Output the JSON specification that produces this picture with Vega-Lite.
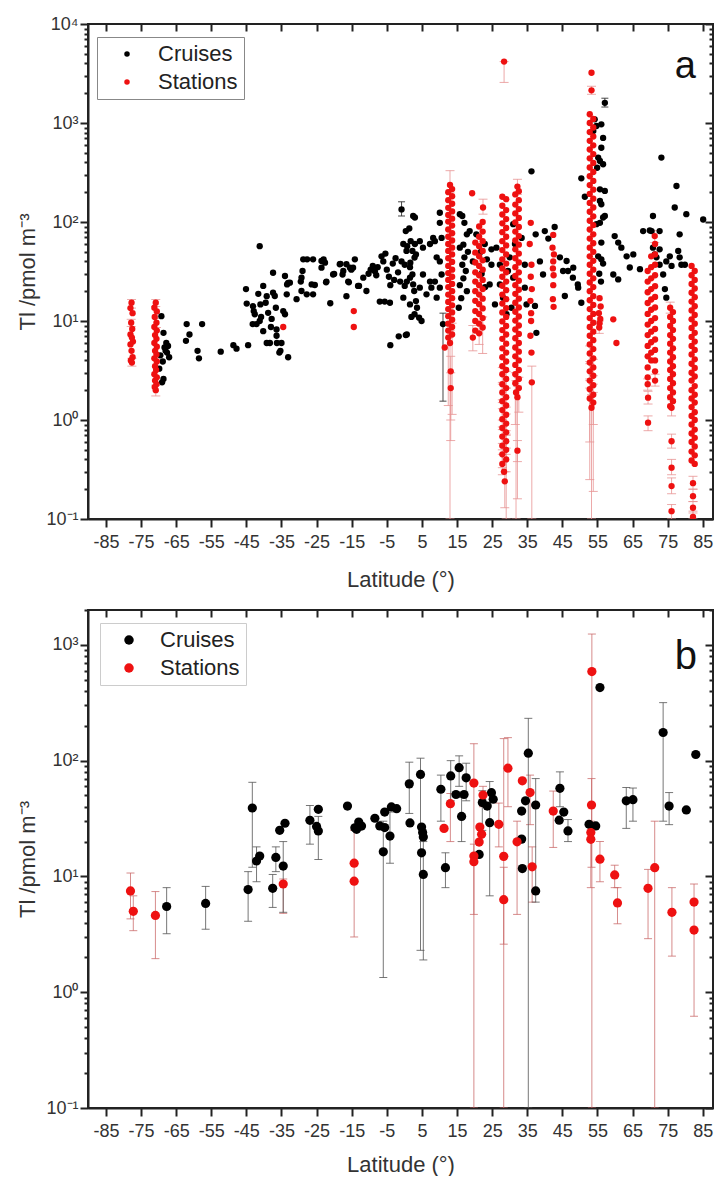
{
"$schema":"https://vega.github.io/schema/vega-lite/v6.json",
"padding":{"left":15,"top":14,"right":2,"bottom":0},
"config":{"view":{"stroke":"#222","strokeWidth":2},"font":"Liberation Sans",
"axis":{"domainColor":"#222","domainWidth":2,"tickColor":"#222","tickWidth":2,"labelColor":"#333","titleColor":"#333","labelFont":"Liberation Sans","titleFont":"Liberation Sans","labelFontSize":18,"titleFontSize":22,"titleFontWeight":"normal","grid":false,"labelOverlap":false,"labelFlush":false,"labelBound":false},
"legend":{"labelFont":"Liberation Sans","labelFontSize":22,"labelColor":"#222"}},
"spacing":9,
"resolve":{"scale":{"x":"independent","y":"independent","color":"independent"}},
"datasets":{
"A":[
{"g":"C","x":-69.2,"y":11.2},{"g":"C","x":-68.6,"y":7.6},{"g":"C","x":-68.3,"y":5.4},{"g":"C","x":-67.6,"y":4.8},{"g":"C","x":-67.0,"y":4.3},{"g":"C","x":-67.3,"y":5.6},{"g":"C","x":-67.8,"y":6.0},{"g":"C","x":-68.8,"y":3.9},{"g":"C","x":-68.6,"y":2.6},{"g":"C","x":-69.0,"y":2.4},{"g":"C","x":-69.5,"y":4.5},{"g":"C","x":-68.0,"y":5.0},{"g":"C","x":-69.8,"y":3.3},
{"g":"C","x":-62.0,"y":9.3},{"g":"C","x":-61.2,"y":7.3},{"g":"C","x":-62.2,"y":6.3},{"g":"C","x":-58.9,"y":5.0},{"g":"C","x":-58.5,"y":4.2},{"g":"C","x":-57.6,"y":9.3},
{"g":"C","x":-52.3,"y":4.9},{"g":"C","x":-48.7,"y":5.7},{"g":"C","x":-47.8,"y":5.25},{"g":"C","x":-44.5,"y":5.7},
{"g":"C","x":-45.1,"y":21},{"g":"C","x":-44.9,"y":15},{"g":"C","x":-43.1,"y":14.1},{"g":"C","x":-42.9,"y":12.6},{"g":"C","x":-42.6,"y":11.7},{"g":"C","x":-43.2,"y":9.3},{"g":"C","x":-42.1,"y":9.3},{"g":"C","x":-41.2,"y":10},{"g":"C","x":-40.2,"y":7.9},{"g":"C","x":-41.0,"y":14.7},{"g":"C","x":-41.6,"y":18.8},{"g":"C","x":-39.2,"y":17.8},{"g":"C","x":-39.5,"y":15.3},{"g":"C","x":-38.8,"y":12.1},{"g":"C","x":-39.2,"y":6.0},{"g":"C","x":-38.3,"y":6.0},{"g":"C","x":-37.4,"y":19.3},{"g":"C","x":-36.9,"y":17.9},{"g":"C","x":-36.6,"y":13.6},{"g":"C","x":-36.4,"y":8.2},{"g":"C","x":-36.4,"y":7.1},{"g":"C","x":-36.3,"y":6.0},{"g":"C","x":-35.6,"y":4.8},{"g":"C","x":-35.3,"y":5.0},{"g":"C","x":-35.0,"y":6.0},{"g":"C","x":-34.5,"y":12.6},{"g":"C","x":-34.0,"y":11.7},{"g":"C","x":-33.5,"y":18.6},{"g":"C","x":-33.1,"y":4.3},{"g":"C","x":-33.4,"y":23.4},{"g":"C","x":-33.1,"y":24.3},{"g":"C","x":-41.2,"y":57},{"g":"C","x":-37.4,"y":30.7},{"g":"C","x":-34.0,"y":28.5},{"g":"C","x":-32.6,"y":24.4},{"g":"C","x":-40.2,"y":22.6},{"g":"C","x":-38.0,"y":8.7},{"g":"C","x":-40.8,"y":11.0},{"g":"C","x":-37.8,"y":10.5},
{"g":"C","x":-30.7,"y":16.6},{"g":"C","x":-29.3,"y":27.4},{"g":"C","x":-28.8,"y":42},{"g":"C","x":-26.0,"y":42},{"g":"C","x":-23.6,"y":40.4},{"g":"C","x":-22.6,"y":38.8},{"g":"C","x":-23.6,"y":34.6},{"g":"C","x":-22.2,"y":25},{"g":"C","x":-20.3,"y":29.5},{"g":"C","x":-17.4,"y":32},{"g":"C","x":-18.4,"y":37.4},{"g":"C","x":-16.5,"y":37.4},{"g":"C","x":-15.5,"y":34.6},{"g":"C","x":-16.0,"y":25},{"g":"C","x":-14.1,"y":42},{"g":"C","x":-13.2,"y":22.6},{"g":"C","x":-26.4,"y":23.4},{"g":"C","x":-29.3,"y":20.1},{"g":"C","x":-26.0,"y":18.6},{"g":"C","x":-16.5,"y":17.8},{"g":"C","x":-27.7,"y":42},{"g":"C","x":-29.0,"y":32},{"g":"C","x":-29.5,"y":25},{"g":"C","x":-27.8,"y":18.6},{"g":"C","x":-25.5,"y":23.1},{"g":"C","x":-23.0,"y":42},{"g":"C","x":-22.3,"y":24.6},{"g":"C","x":-21.1,"y":15.1},{"g":"C","x":-20.0,"y":29.9},{"g":"C","x":-17.6,"y":29.5},{"g":"C","x":-18.2,"y":37.8},{"g":"C","x":-15.8,"y":24.6},{"g":"C","x":-14.6,"y":34.6},{"g":"C","x":-15.1,"y":33},
{"g":"C","x":-12.9,"y":22.6},{"g":"C","x":-11.7,"y":27.4},{"g":"C","x":-10.8,"y":20.1},{"g":"C","x":-10.2,"y":30},{"g":"C","x":-9.6,"y":33},{"g":"C","x":-9.0,"y":36},{"g":"C","x":-8.4,"y":31.8},{"g":"C","x":-8.0,"y":29},{"g":"C","x":-7.6,"y":35},{"g":"C","x":-6.5,"y":45},{"g":"C","x":-6.0,"y":40},{"g":"C","x":-5.4,"y":48},{"g":"C","x":-5.0,"y":33},{"g":"C","x":-4.4,"y":28},{"g":"C","x":-4.0,"y":23},{"g":"C","x":-3.3,"y":38},{"g":"C","x":-2.9,"y":26},{"g":"C","x":-2.5,"y":43},{"g":"C","x":-1.8,"y":31},{"g":"C","x":-1.2,"y":25},{"g":"C","x":-7.0,"y":15.7},{"g":"C","x":-5.6,"y":15.7},{"g":"C","x":-4.1,"y":15.3},{"g":"C","x":-4.0,"y":5.7},{"g":"C","x":-1.6,"y":7.0},{"g":"C","x":0.4,"y":7.2},{"g":"C","x":-0.8,"y":134,"lo":115,"hi":160},{"g":"C","x":0.4,"y":81},{"g":"C","x":1.4,"y":86},{"g":"C","x":2.5,"y":115},{"g":"C","x":3.0,"y":111},{"g":"C","x":0.8,"y":57},{"g":"C","x":1.8,"y":64},{"g":"C","x":2.3,"y":51},{"g":"C","x":2.9,"y":43.7},{"g":"C","x":1.7,"y":38.8},{"g":"C","x":3.3,"y":47},{"g":"C","x":2.3,"y":29.5},{"g":"C","x":2.8,"y":20.1},{"g":"C","x":3.3,"y":15.9},{"g":"C","x":3.6,"y":13.6},{"g":"C","x":2.9,"y":11.7},{"g":"C","x":4.2,"y":10.8},
{"g":"C","x":-0.3,"y":60},{"g":"C","x":0.6,"y":51},{"g":"C","x":-0.8,"y":40},{"g":"C","x":0.1,"y":37},{"g":"C","x":1.6,"y":35},{"g":"C","x":3.0,"y":60},{"g":"C","x":4.4,"y":64},{"g":"C","x":5.3,"y":55},{"g":"C","x":7.3,"y":60},{"g":"C","x":8.2,"y":69},{"g":"C","x":8.7,"y":64},{"g":"C","x":0.7,"y":25},{"g":"C","x":0.1,"y":22.6},{"g":"C","x":1.6,"y":27.4},{"g":"C","x":2.5,"y":23.4},{"g":"C","x":4.4,"y":21.7},{"g":"C","x":5.3,"y":29.5},{"g":"C","x":6.3,"y":18.6},{"g":"C","x":7.7,"y":21.7},{"g":"C","x":-0.3,"y":17.2},{"g":"C","x":1.6,"y":14.7},{"g":"C","x":4.9,"y":10.0},{"g":"C","x":2.0,"y":11.0},{"g":"C","x":7.3,"y":25},{"g":"C","x":8.7,"y":25},{"g":"C","x":9.2,"y":44},{"g":"C","x":0.7,"y":7.3},
{"g":"C","x":10.1,"y":124},{"g":"C","x":10.1,"y":98},{"g":"C","x":10.6,"y":69},{"g":"C","x":10.1,"y":40},{"g":"C","x":10.6,"y":29.5},{"g":"C","x":10.1,"y":21.7},{"g":"C","x":9.2,"y":17.2},{"g":"C","x":11.0,"y":9.3,"lo":1.55,"hi":12},
{"g":"C","x":15.8,"y":120},{"g":"C","x":16.5,"y":115},{"g":"C","x":17.1,"y":98},{"g":"C","x":18.6,"y":81},{"g":"C","x":17.8,"y":75},{"g":"C","x":16.8,"y":59},{"g":"C","x":15.8,"y":55},{"g":"C","x":17.1,"y":44},{"g":"C","x":16.5,"y":37},{"g":"C","x":17.5,"y":32},{"g":"C","x":16.8,"y":27},{"g":"C","x":15.8,"y":23},{"g":"C","x":17.8,"y":20},{"g":"C","x":16.2,"y":17},{"g":"C","x":15.5,"y":13.6},{"g":"C","x":18.1,"y":50},
{"g":"C","x":22.9,"y":60},{"g":"C","x":24.8,"y":53},{"g":"C","x":26.2,"y":55},{"g":"C","x":27.2,"y":37},{"g":"C","x":24.8,"y":37},{"g":"C","x":24.3,"y":23.4},{"g":"C","x":25.8,"y":14.7},{"g":"C","x":31.0,"y":95},{"g":"C","x":31.5,"y":60},{"g":"C","x":30.0,"y":44},{"g":"C","x":29.5,"y":32},{"g":"C","x":31.0,"y":27.4},{"g":"C","x":30.5,"y":13.6},{"g":"C","x":33.4,"y":69},{"g":"C","x":34.3,"y":37},{"g":"C","x":34.3,"y":21.7},{"g":"C","x":34.8,"y":14.7},{"g":"C","x":27.2,"y":23.4},{"g":"C","x":28.1,"y":17.2},{"g":"C","x":29.1,"y":11.7},{"g":"C","x":20.5,"y":75},{"g":"C","x":21.8,"y":50},{"g":"C","x":23.5,"y":42},{"g":"C","x":22.0,"y":30},{"g":"C","x":19.5,"y":40},{"g":"C","x":23.0,"y":22},
{"g":"C","x":36.2,"y":325},{"g":"C","x":37.4,"y":75},{"g":"C","x":40.0,"y":81},{"g":"C","x":41.0,"y":68},{"g":"C","x":42.8,"y":89},{"g":"C","x":38.6,"y":40},{"g":"C","x":39.5,"y":29.5},{"g":"C","x":44.3,"y":44},{"g":"C","x":45.2,"y":32},{"g":"C","x":45.7,"y":17.9},{"g":"C","x":46.6,"y":32},{"g":"C","x":48.0,"y":27.4},{"g":"C","x":49.4,"y":23.4},{"g":"C","x":37.2,"y":14.2},{"g":"C","x":37.6,"y":7.6},{"g":"C","x":50.4,"y":276},{"g":"C","x":51.4,"y":180},{"g":"C","x":50.4,"y":15.3},{"g":"C","x":49.5,"y":21.7},{"g":"C","x":48.1,"y":34.6},{"g":"C","x":46.2,"y":40.4},
{"g":"C","x":57.1,"y":1600,"lo":1450,"hi":1780},{"g":"C","x":54.2,"y":1090},{"g":"C","x":56.1,"y":970},{"g":"C","x":54.7,"y":933},{"g":"C","x":53.8,"y":830},{"g":"C","x":56.6,"y":707},{"g":"C","x":56.1,"y":562},{"g":"C","x":55.2,"y":447},{"g":"C","x":55.7,"y":413},{"g":"C","x":56.6,"y":383},{"g":"C","x":54.9,"y":353},{"g":"C","x":55.7,"y":214},{"g":"C","x":57.1,"y":206},{"g":"C","x":56.1,"y":151},{"g":"C","x":55.7,"y":163},{"g":"C","x":57.1,"y":115},{"g":"C","x":55.7,"y":98},{"g":"C","x":56.1,"y":62},{"g":"C","x":55.2,"y":45},{"g":"C","x":56.6,"y":38},{"g":"C","x":55.5,"y":30},{"g":"C","x":56.0,"y":25},{"g":"C","x":56.6,"y":111},{"g":"C","x":54.7,"y":95},{"g":"C","x":56.1,"y":42},
{"g":"C","x":59.9,"y":72},{"g":"C","x":60.9,"y":62},{"g":"C","x":61.8,"y":55},{"g":"C","x":63.3,"y":45},{"g":"C","x":65.2,"y":47},{"g":"C","x":68.0,"y":81},{"g":"C","x":70.4,"y":81},{"g":"C","x":70.8,"y":115},{"g":"C","x":73.2,"y":447},{"g":"C","x":77.5,"y":231},{"g":"C","x":77.0,"y":140},{"g":"C","x":78.4,"y":75},{"g":"C","x":80.3,"y":120},{"g":"C","x":85.1,"y":106},{"g":"C","x":70.8,"y":55},{"g":"C","x":71.3,"y":47},{"g":"C","x":72.7,"y":53},{"g":"C","x":74.6,"y":40},{"g":"C","x":76.1,"y":36},{"g":"C","x":75.6,"y":45},{"g":"C","x":78.0,"y":51},{"g":"C","x":78.4,"y":44},{"g":"C","x":78.9,"y":37},{"g":"C","x":59.5,"y":29.5},{"g":"C","x":60.9,"y":26.3},{"g":"C","x":64.2,"y":34.7},{"g":"C","x":67.1,"y":33.4},{"g":"C","x":69.9,"y":82},{"g":"C","x":72.7,"y":81},{"g":"C","x":71.8,"y":44},{"g":"C","x":72.7,"y":37},{"g":"C","x":73.7,"y":29.5},{"g":"C","x":74.2,"y":21},{"g":"C","x":74.6,"y":17.2},{"g":"C","x":79.9,"y":37},
{"g":"S","x":-77.7,"y":15.3,"lo":13.5,"hi":16.5},{"g":"S","x":-78.0,"y":13.5},{"g":"S","x":-77.4,"y":12.0},{"g":"S","x":-77.8,"y":9.6,"lo":8.8,"hi":10.4},{"g":"S","x":-77.5,"y":8.3},{"g":"S","x":-78.0,"y":7.3},{"g":"S","x":-77.6,"y":6.8},{"g":"S","x":-77.3,"y":6.2},{"g":"S","x":-78.0,"y":5.8},{"g":"S","x":-77.7,"y":5.0},{"g":"S","x":-77.4,"y":4.3},{"g":"S","x":-77.9,"y":4.0},{"g":"S","x":-77.6,"y":3.8,"lo":3.5,"hi":4.2},
{"g":"S","x":-70.8,"y":15.3,"lo":14,"hi":16.5},{"g":"S","x":-71.2,"y":13.6},{"g":"S","x":-70.5,"y":12.5},{"g":"S","x":-71.1,"y":11.0},{"g":"S","x":-70.6,"y":9.6,"lo":8.6,"hi":10.6},{"g":"S","x":-71.2,"y":8.7},{"g":"S","x":-70.5,"y":8.0},{"g":"S","x":-71.0,"y":7.2},{"g":"S","x":-70.6,"y":6.6},{"g":"S","x":-71.2,"y":6.0},{"g":"S","x":-70.5,"y":5.5},{"g":"S","x":-71.0,"y":5.0},{"g":"S","x":-70.6,"y":4.6},{"g":"S","x":-71.2,"y":4.2},{"g":"S","x":-70.5,"y":3.9},{"g":"S","x":-71.0,"y":3.5},{"g":"S","x":-70.7,"y":3.2},{"g":"S","x":-71.2,"y":2.9},{"g":"S","x":-70.5,"y":2.7},{"g":"S","x":-71.0,"y":2.5},{"g":"S","x":-70.6,"y":2.3},{"g":"S","x":-71.1,"y":2.15},{"g":"S","x":-70.8,"y":2.0,"lo":1.75,"hi":2.25},
{"g":"S","x":-34.5,"y":8.7},{"g":"S","x":-14.4,"y":12.6},{"g":"S","x":-14.4,"y":8.7},
{"g":"S","x":13.0,"y":237,"lo":200,"hi":330},
{"g":"S","x":12.5,"y":200},{"g":"S","x":12.5,"y":166},{"g":"S","x":12.5,"y":139},{"g":"S","x":12.5,"y":118},{"g":"S","x":12.5,"y":101},{"g":"S","x":12.5,"y":84},{"g":"S","x":12.5,"y":71},{"g":"S","x":12.5,"y":60},{"g":"S","x":12.5,"y":51},{"g":"S","x":12.5,"y":43},{"g":"S","x":12.5,"y":36},{"g":"S","x":12.5,"y":30.5},{"g":"S","x":12.5,"y":26},{"g":"S","x":12.5,"y":22},{"g":"S","x":12.5,"y":18.5},{"g":"S","x":12.5,"y":15.6},{"g":"S","x":12.5,"y":13.2},{"g":"S","x":12.5,"y":11.2},{"g":"S","x":12.5,"y":9.4},{"g":"S","x":12.5,"y":8.0},{"g":"S","x":12.5,"y":6.8,"lo":1.4,"hi":9},
{"g":"S","x":13.6,"y":215},{"g":"S","x":13.6,"y":182},{"g":"S","x":13.6,"y":153},{"g":"S","x":13.6,"y":128},{"g":"S","x":13.6,"y":108},{"g":"S","x":13.6,"y":92},{"g":"S","x":13.6,"y":77},{"g":"S","x":13.6,"y":65},{"g":"S","x":13.6,"y":55},{"g":"S","x":13.6,"y":47},{"g":"S","x":13.6,"y":39.5},{"g":"S","x":13.6,"y":33},{"g":"S","x":13.6,"y":28},{"g":"S","x":13.6,"y":23.7},{"g":"S","x":13.6,"y":20},{"g":"S","x":13.6,"y":17},{"g":"S","x":13.6,"y":14.4},{"g":"S","x":13.6,"y":12.2},{"g":"S","x":13.6,"y":10.3},{"g":"S","x":13.6,"y":8.7},{"g":"S","x":13.6,"y":7.3,"lo":1.14,"hi":9.5},
{"g":"S","x":11.5,"y":5.4},{"g":"S","x":13.2,"y":3.1,"lo":1.0,"hi":4.4},{"g":"S","x":13.2,"y":2.1,"lo":0.62,"hi":3.0},{"g":"S","x":13.0,"y":6.0,"lo":0.1,"hi":8},
{"g":"S","x":19.3,"y":195},{"g":"S","x":22.4,"y":140,"lo":120,"hi":170},
{"g":"S","x":22.3,"y":100},{"g":"S","x":22.3,"y":80},{"g":"S","x":22.3,"y":64},{"g":"S","x":22.3,"y":51},{"g":"S","x":22.3,"y":41},{"g":"S","x":22.3,"y":33},{"g":"S","x":22.3,"y":26},{"g":"S","x":22.3,"y":21},{"g":"S","x":22.3,"y":16.8},{"g":"S","x":22.3,"y":13.4},{"g":"S","x":22.3,"y":10.7},{"g":"S","x":22.3,"y":8.6,"lo":4.7,"hi":11},
{"g":"S","x":21.3,"y":90},{"g":"S","x":21.3,"y":71},{"g":"S","x":21.3,"y":57},{"g":"S","x":21.3,"y":45},{"g":"S","x":21.3,"y":36},{"g":"S","x":21.3,"y":29},{"g":"S","x":21.3,"y":23},{"g":"S","x":21.3,"y":18.5},{"g":"S","x":21.3,"y":14.8},{"g":"S","x":21.3,"y":11.8},{"g":"S","x":21.3,"y":9.4},{"g":"S","x":21.3,"y":7.5,"lo":5.8,"hi":9.5},
{"g":"S","x":20.2,"y":62},{"g":"S","x":20.2,"y":49},{"g":"S","x":20.2,"y":39},{"g":"S","x":20.2,"y":31},{"g":"S","x":20.2,"y":25},{"g":"S","x":20.2,"y":20},{"g":"S","x":20.2,"y":16},{"g":"S","x":20.2,"y":12.6},{"g":"S","x":20.2,"y":10},{"g":"S","x":20.2,"y":8},{"g":"S","x":19.5,"y":6.8,"lo":5.0,"hi":9},
{"g":"S","x":28.4,"y":4170,"lo":2570,"hi":4170},
{"g":"S","x":27.9,"y":180},{"g":"S","x":27.9,"y":146},{"g":"S","x":27.9,"y":119},{"g":"S","x":27.9,"y":97},{"g":"S","x":27.9,"y":79},{"g":"S","x":27.9,"y":64},{"g":"S","x":27.9,"y":52},{"g":"S","x":27.9,"y":42},{"g":"S","x":27.9,"y":34},{"g":"S","x":27.9,"y":28},{"g":"S","x":27.9,"y":22.7},{"g":"S","x":27.9,"y":18.5},{"g":"S","x":27.9,"y":15},{"g":"S","x":27.9,"y":12.2},{"g":"S","x":27.9,"y":9.9},{"g":"S","x":27.9,"y":8.1},{"g":"S","x":27.9,"y":6.6},{"g":"S","x":27.9,"y":5.3},{"g":"S","x":27.9,"y":4.3},{"g":"S","x":27.9,"y":3.5},{"g":"S","x":27.9,"y":2.9,"lo":2.4,"hi":3.4},{"g":"S","x":27.9,"y":2.3},{"g":"S","x":27.9,"y":1.9,"lo":1.5,"hi":2.3},{"g":"S","x":27.9,"y":1.55},{"g":"S","x":27.9,"y":1.26,"lo":1.0,"hi":1.6},{"g":"S","x":27.9,"y":1.02,"lo":0.8,"hi":1.3},{"g":"S","x":27.9,"y":0.83},{"g":"S","x":27.9,"y":0.68,"lo":0.5,"hi":0.85},{"g":"S","x":27.9,"y":0.55},{"g":"S","x":27.9,"y":0.45,"lo":0.33,"hi":0.58},{"g":"S","x":27.9,"y":0.36,"lo":0.28,"hi":0.45},
{"g":"S","x":29.0,"y":170},{"g":"S","x":29.0,"y":132},{"g":"S","x":29.0,"y":107},{"g":"S","x":29.0,"y":87},{"g":"S","x":29.0,"y":71},{"g":"S","x":29.0,"y":58},{"g":"S","x":29.0,"y":47},{"g":"S","x":29.0,"y":38},{"g":"S","x":29.0,"y":31},{"g":"S","x":29.0,"y":25},{"g":"S","x":29.0,"y":20.5},{"g":"S","x":29.0,"y":16.6},{"g":"S","x":29.0,"y":13.5},{"g":"S","x":29.0,"y":11},{"g":"S","x":29.0,"y":8.9},{"g":"S","x":29.0,"y":7.3},{"g":"S","x":29.0,"y":5.9},{"g":"S","x":29.0,"y":4.8},{"g":"S","x":29.0,"y":3.9},{"g":"S","x":29.0,"y":3.2},{"g":"S","x":29.0,"y":2.6,"lo":2.1,"hi":3.1},{"g":"S","x":29.0,"y":2.1},{"g":"S","x":29.0,"y":1.7,"lo":1.35,"hi":2.1},{"g":"S","x":29.0,"y":1.4},{"g":"S","x":29.0,"y":1.13},{"g":"S","x":29.0,"y":0.92,"lo":0.72,"hi":1.15},{"g":"S","x":29.0,"y":0.75},{"g":"S","x":29.0,"y":0.61,"lo":0.45,"hi":0.78},{"g":"S","x":29.0,"y":0.5,"lo":0.1,"hi":0.7},{"g":"S","x":29.0,"y":0.4,"lo":0.3,"hi":0.52},{"g":"S","x":28.4,"y":0.3},{"g":"S","x":28.6,"y":0.24,"lo":0.13,"hi":0.3},
{"g":"S","x":32.2,"y":228,"lo":190,"hi":270},
{"g":"S","x":31.6,"y":190},{"g":"S","x":31.6,"y":150},{"g":"S","x":31.6,"y":122},{"g":"S","x":31.6,"y":99},{"g":"S","x":31.6,"y":80},{"g":"S","x":31.6,"y":65},{"g":"S","x":31.6,"y":53},{"g":"S","x":31.6,"y":43},{"g":"S","x":31.6,"y":35},{"g":"S","x":31.6,"y":28.5},{"g":"S","x":31.6,"y":23},{"g":"S","x":31.6,"y":18.8},{"g":"S","x":31.6,"y":15.3},{"g":"S","x":31.6,"y":12.4},{"g":"S","x":31.6,"y":10.1},{"g":"S","x":31.6,"y":8.2},{"g":"S","x":31.6,"y":6.7},{"g":"S","x":31.6,"y":5.4},{"g":"S","x":31.6,"y":4.4},{"g":"S","x":31.6,"y":3.6},{"g":"S","x":31.6,"y":2.9},{"g":"S","x":31.6,"y":2.35,"lo":0.9,"hi":3.0},{"g":"S","x":31.8,"y":1.9,"lo":0.1,"hi":2.5},
{"g":"S","x":32.6,"y":205},{"g":"S","x":32.6,"y":166},{"g":"S","x":32.6,"y":135},{"g":"S","x":32.6,"y":110},{"g":"S","x":32.6,"y":89},{"g":"S","x":32.6,"y":72},{"g":"S","x":32.6,"y":59},{"g":"S","x":32.6,"y":48},{"g":"S","x":32.6,"y":39},{"g":"S","x":32.6,"y":31},{"g":"S","x":32.6,"y":25.5},{"g":"S","x":32.6,"y":20.7},{"g":"S","x":32.6,"y":16.8},{"g":"S","x":32.6,"y":13.7},{"g":"S","x":32.6,"y":11.1},{"g":"S","x":32.6,"y":9},{"g":"S","x":32.6,"y":7.4},{"g":"S","x":32.6,"y":6},{"g":"S","x":32.6,"y":4.9},{"g":"S","x":32.6,"y":4},{"g":"S","x":32.6,"y":3.2},{"g":"S","x":32.6,"y":2.6},{"g":"S","x":32.6,"y":2.1,"lo":1.2,"hi":2.7},{"g":"S","x":32.2,"y":1.7,"lo":0.16,"hi":2.2},{"g":"S","x":32.2,"y":0.49,"lo":0.38,"hi":0.62},
{"g":"S","x":36.0,"y":98},{"g":"S","x":35.7,"y":60},{"g":"S","x":36.2,"y":37},{"g":"S","x":36.0,"y":28},{"g":"S","x":36.3,"y":21},{"g":"S","x":35.9,"y":16},{"g":"S","x":36.1,"y":12},{"g":"S","x":36.1,"y":10},{"g":"S","x":35.9,"y":7.1},{"g":"S","x":36.2,"y":4.8},{"g":"S","x":36.3,"y":2.4,"lo":0.1,"hi":3.5},
{"g":"S","x":42.4,"y":74},{"g":"S","x":42.2,"y":55},{"g":"S","x":42.6,"y":47},{"g":"S","x":42.4,"y":40},{"g":"S","x":42.3,"y":34},{"g":"S","x":42.5,"y":29},{"g":"S","x":42.4,"y":23},{"g":"S","x":42.3,"y":16.6},{"g":"S","x":42.5,"y":13.9},
{"g":"S","x":53.3,"y":3220},{"g":"S","x":53.3,"y":2140,"lo":1950,"hi":2350},
{"g":"S","x":52.8,"y":1225},{"g":"S","x":52.8,"y":1000},{"g":"S","x":52.8,"y":810},{"g":"S","x":52.8,"y":660},{"g":"S","x":52.8,"y":540},{"g":"S","x":52.8,"y":440},{"g":"S","x":52.8,"y":355},{"g":"S","x":52.8,"y":290},{"g":"S","x":52.8,"y":236},{"g":"S","x":52.8,"y":192},{"g":"S","x":52.8,"y":156},{"g":"S","x":52.8,"y":127},{"g":"S","x":52.8,"y":103},{"g":"S","x":52.8,"y":84},{"g":"S","x":52.8,"y":68},{"g":"S","x":52.8,"y":55},{"g":"S","x":52.8,"y":45},{"g":"S","x":52.8,"y":37},{"g":"S","x":52.8,"y":30},{"g":"S","x":52.8,"y":24.5},{"g":"S","x":52.8,"y":20},{"g":"S","x":52.8,"y":16.2},{"g":"S","x":52.8,"y":13.2},{"g":"S","x":52.8,"y":10.7},{"g":"S","x":52.8,"y":8.7},{"g":"S","x":52.8,"y":7.1},{"g":"S","x":52.8,"y":5.8},{"g":"S","x":52.8,"y":4.7,"lo":3.9,"hi":5.6},{"g":"S","x":52.8,"y":3.8},{"g":"S","x":52.8,"y":3.1,"lo":2.5,"hi":3.7},{"g":"S","x":52.8,"y":2.5},{"g":"S","x":52.8,"y":2.05,"lo":0.6,"hi":2.6},{"g":"S","x":52.8,"y":1.65,"lo":0.25,"hi":2.1},
{"g":"S","x":53.8,"y":1100},{"g":"S","x":53.8,"y":900},{"g":"S","x":53.8,"y":730},{"g":"S","x":53.8,"y":595},{"g":"S","x":53.8,"y":485},{"g":"S","x":53.8,"y":395},{"g":"S","x":53.8,"y":320},{"g":"S","x":53.8,"y":260},{"g":"S","x":53.8,"y":212},{"g":"S","x":53.8,"y":172},{"g":"S","x":53.8,"y":140},{"g":"S","x":53.8,"y":114},{"g":"S","x":53.8,"y":93},{"g":"S","x":53.8,"y":75},{"g":"S","x":53.8,"y":61},{"g":"S","x":53.8,"y":50},{"g":"S","x":53.8,"y":40.5},{"g":"S","x":53.8,"y":33},{"g":"S","x":53.8,"y":27},{"g":"S","x":53.8,"y":22},{"g":"S","x":53.8,"y":17.8},{"g":"S","x":53.8,"y":14.5},{"g":"S","x":53.8,"y":11.8},{"g":"S","x":53.8,"y":9.6},{"g":"S","x":53.8,"y":7.8},{"g":"S","x":53.8,"y":6.4},{"g":"S","x":53.8,"y":5.2},{"g":"S","x":53.8,"y":4.2},{"g":"S","x":53.8,"y":3.4,"lo":2.8,"hi":4.1},{"g":"S","x":53.8,"y":2.8},{"g":"S","x":53.8,"y":2.25},{"g":"S","x":53.8,"y":1.8,"lo":0.9,"hi":2.3},{"g":"S","x":53.8,"y":1.5,"lo":0.19,"hi":1.9},{"g":"S","x":53.3,"y":1.33,"lo":0.1,"hi":1.8},
{"g":"S","x":55.6,"y":17},{"g":"S","x":55.9,"y":14},{"g":"S","x":55.4,"y":12},{"g":"S","x":55.8,"y":10.5},{"g":"S","x":55.6,"y":9.5},{"g":"S","x":55.5,"y":8.6,"lo":7.5,"hi":10},{"g":"S","x":59.5,"y":10.4},{"g":"S","x":60.4,"y":6.0},
{"g":"S","x":71.3,"y":72,"lo":62,"hi":82},
{"g":"S","x":69.3,"y":32},{"g":"S","x":69.3,"y":25},{"g":"S","x":69.3,"y":19.5},{"g":"S","x":69.3,"y":15.2},{"g":"S","x":69.3,"y":11.8},{"g":"S","x":69.3,"y":9.2},{"g":"S","x":69.3,"y":7.2},{"g":"S","x":69.3,"y":5.6},{"g":"S","x":69.3,"y":4.4},{"g":"S","x":69.3,"y":3.4},{"g":"S","x":69.3,"y":2.7},{"g":"S","x":69.3,"y":2.3,"lo":2.0,"hi":2.6},
{"g":"S","x":70.3,"y":45},{"g":"S","x":70.3,"y":35},{"g":"S","x":70.3,"y":27},{"g":"S","x":70.3,"y":21},{"g":"S","x":70.3,"y":16.5},{"g":"S","x":70.3,"y":13},{"g":"S","x":70.3,"y":10},{"g":"S","x":70.3,"y":7.8},{"g":"S","x":70.3,"y":6.1},{"g":"S","x":70.3,"y":4.8},{"g":"S","x":70.3,"y":4.0},
{"g":"S","x":71.4,"y":60},{"g":"S","x":71.4,"y":47},{"g":"S","x":71.4,"y":37},{"g":"S","x":71.4,"y":29},{"g":"S","x":71.4,"y":22.5},{"g":"S","x":71.4,"y":17.5},{"g":"S","x":71.4,"y":13.7},{"g":"S","x":71.4,"y":10.7},{"g":"S","x":71.4,"y":8.3},{"g":"S","x":71.4,"y":6.5},{"g":"S","x":71.4,"y":5.1},{"g":"S","x":71.4,"y":4.0},{"g":"S","x":71.4,"y":3.1},{"g":"S","x":71.4,"y":2.5,"lo":2.2,"hi":2.9},
{"g":"S","x":69.4,"y":1.68,"lo":1.45,"hi":1.95},{"g":"S","x":69.4,"y":0.94,"lo":0.78,"hi":1.1},
{"g":"S","x":75.7,"y":13.6,"lo":12,"hi":15.5},{"g":"S","x":75.7,"y":11},{"g":"S","x":75.7,"y":8.9},{"g":"S","x":75.7,"y":7.2},{"g":"S","x":75.7,"y":5.9},{"g":"S","x":75.7,"y":4.8},{"g":"S","x":75.7,"y":3.9},{"g":"S","x":75.7,"y":3.2},{"g":"S","x":75.7,"y":2.6},{"g":"S","x":75.7,"y":2.1},{"g":"S","x":75.7,"y":1.7},{"g":"S","x":75.7,"y":1.38},
{"g":"S","x":76.5,"y":12.3},{"g":"S","x":76.5,"y":10},{"g":"S","x":76.5,"y":8.1},{"g":"S","x":76.5,"y":6.6},{"g":"S","x":76.5,"y":5.3},{"g":"S","x":76.5,"y":4.3},{"g":"S","x":76.5,"y":3.5},{"g":"S","x":76.5,"y":2.9},{"g":"S","x":76.5,"y":2.35},{"g":"S","x":76.5,"y":1.9},{"g":"S","x":76.5,"y":1.55},
{"g":"S","x":76.1,"y":1.33,"lo":1.1,"hi":1.6},{"g":"S","x":76.1,"y":0.61,"lo":0.52,"hi":0.72},{"g":"S","x":76.1,"y":0.33,"lo":0.28,"hi":0.4},{"g":"S","x":76.1,"y":0.215,"lo":0.18,"hi":0.26},{"g":"S","x":76.1,"y":0.12,"lo":0.1,"hi":0.14},
{"g":"S","x":81.8,"y":36},{"g":"S","x":81.8,"y":29},{"g":"S","x":81.8,"y":23.7},{"g":"S","x":81.8,"y":19.3},{"g":"S","x":81.8,"y":15.7},{"g":"S","x":81.8,"y":12.8},{"g":"S","x":81.8,"y":10.4},{"g":"S","x":81.8,"y":8.5},{"g":"S","x":81.8,"y":6.9},{"g":"S","x":81.8,"y":5.6},{"g":"S","x":81.8,"y":4.6},{"g":"S","x":81.8,"y":3.7},{"g":"S","x":81.8,"y":3.0},{"g":"S","x":81.8,"y":2.5},{"g":"S","x":81.8,"y":2.0},{"g":"S","x":81.8,"y":1.65},{"g":"S","x":81.8,"y":1.35},{"g":"S","x":81.8,"y":1.1},{"g":"S","x":81.8,"y":0.9},{"g":"S","x":81.8,"y":0.73},{"g":"S","x":81.8,"y":0.6},{"g":"S","x":81.8,"y":0.48},{"g":"S","x":81.8,"y":0.39},
{"g":"S","x":82.7,"y":32},{"g":"S","x":82.7,"y":26},{"g":"S","x":82.7,"y":21.3},{"g":"S","x":82.7,"y":17.4},{"g":"S","x":82.7,"y":14.1},{"g":"S","x":82.7,"y":11.5},{"g":"S","x":82.7,"y":9.4},{"g":"S","x":82.7,"y":7.6},{"g":"S","x":82.7,"y":6.2},{"g":"S","x":82.7,"y":5.1},{"g":"S","x":82.7,"y":4.1},{"g":"S","x":82.7,"y":3.35},{"g":"S","x":82.7,"y":2.75},{"g":"S","x":82.7,"y":2.2},{"g":"S","x":82.7,"y":1.8},{"g":"S","x":82.7,"y":1.5},{"g":"S","x":82.7,"y":1.2},{"g":"S","x":82.7,"y":1.0},{"g":"S","x":82.7,"y":0.8},{"g":"S","x":82.7,"y":0.66},{"g":"S","x":82.7,"y":0.54},{"g":"S","x":82.7,"y":0.44},{"g":"S","x":82.7,"y":0.36},
{"g":"S","x":82.2,"y":0.23,"lo":0.2,"hi":0.27},{"g":"S","x":82.2,"y":0.17,"lo":0.15,"hi":0.2},{"g":"S","x":82.2,"y":0.13,"lo":0.115,"hi":0.15},{"g":"S","x":82.2,"y":0.105,"lo":0.1,"hi":0.12}
],
"B":[
{"g":"C","x":-67.7,"y":5.5,"lo":3.2,"hi":8.0},{"g":"C","x":-56.6,"y":5.85,"lo":3.5,"hi":8.2},{"g":"C","x":-44.5,"y":7.7,"lo":4.1,"hi":11},{"g":"C","x":-43.3,"y":39,"lo":12,"hi":65},{"g":"C","x":-42.1,"y":13.6,"lo":9,"hi":18},{"g":"C","x":-41.2,"y":15},{"g":"C","x":-37.5,"y":7.9,"lo":5.4,"hi":10.4},{"g":"C","x":-36.6,"y":14.6,"lo":11,"hi":18},{"g":"C","x":-35.5,"y":25},{"g":"C","x":-34.0,"y":28.8},{"g":"C","x":-34.5,"y":12.3,"lo":4.9,"hi":20},{"g":"C","x":-26.9,"y":30.5,"lo":19,"hi":41},{"g":"C","x":-24.5,"y":38},{"g":"C","x":-24.5,"y":24.7,"lo":14,"hi":33},{"g":"C","x":-25.0,"y":27},{"g":"C","x":-16.2,"y":40.5},{"g":"C","x":-14.1,"y":26.3},{"g":"C","x":-13.0,"y":29.5},{"g":"C","x":-12.2,"y":27.2},{"g":"C","x":-13.6,"y":25.5},{"g":"C","x":-8.4,"y":31.8},{"g":"C","x":-7.0,"y":27.3},{"g":"C","x":-5.6,"y":26.4},{"g":"C","x":-4.1,"y":22.3,"lo":13,"hi":36},{"g":"C","x":-6.0,"y":16.3,"lo":1.34,"hi":30},{"g":"C","x":-5.6,"y":36},{"g":"C","x":-3.7,"y":39.8},{"g":"C","x":-2.2,"y":38.5},{"g":"C","x":1.4,"y":63,"lo":35,"hi":97},{"g":"C","x":1.6,"y":29},{"g":"C","x":4.6,"y":76,"lo":2.3,"hi":105},{"g":"C","x":4.9,"y":26.7},{"g":"C","x":5.2,"y":23.9},{"g":"C","x":5.4,"y":21.9},{"g":"C","x":4.9,"y":16},{"g":"C","x":5.4,"y":10.4,"lo":1.9,"hi":20},{"g":"C","x":10.4,"y":56.6,"lo":30,"hi":75},{"g":"C","x":11.7,"y":11.9,"lo":8,"hi":16},{"g":"C","x":13.2,"y":73.8,"lo":45,"hi":100},{"g":"C","x":15.6,"y":87,"lo":60,"hi":110},{"g":"C","x":14.7,"y":51},{"g":"C","x":17.0,"y":51},{"g":"C","x":16.3,"y":33,"lo":20,"hi":48},{"g":"C","x":17.6,"y":71,"lo":45,"hi":95},{"g":"C","x":21.3,"y":15.5},{"g":"C","x":22.2,"y":43.4,"lo":25,"hi":55},{"g":"C","x":23.6,"y":40.5},{"g":"C","x":24.8,"y":52.9},{"g":"C","x":25.3,"y":46.4},{"g":"C","x":24.3,"y":29.1,"lo":6.8,"hi":66},{"g":"C","x":33.4,"y":21},{"g":"C","x":33.4,"y":36.7},{"g":"C","x":33.6,"y":11.7},{"g":"C","x":34.5,"y":45},{"g":"C","x":35.3,"y":116,"lo":0.1,"hi":232},{"g":"C","x":37.4,"y":41.4,"lo":6,"hi":70},{"g":"C","x":37.4,"y":7.5},{"g":"C","x":44.3,"y":57.7,"lo":40,"hi":80},{"g":"C","x":45.4,"y":36},{"g":"C","x":44.1,"y":30.6},{"g":"C","x":46.6,"y":24.7,"lo":20,"hi":31},{"g":"C","x":52.6,"y":28.2},{"g":"C","x":54.5,"y":27.3},{"g":"C","x":55.7,"y":428},{"g":"C","x":63.2,"y":45,"lo":26,"hi":58.6},{"g":"C","x":65.1,"y":46,"lo":30,"hi":58},{"g":"C","x":73.7,"y":175,"lo":30,"hi":317},{"g":"C","x":75.4,"y":40.5,"lo":28,"hi":53},{"g":"C","x":80.3,"y":37.5},{"g":"C","x":83.0,"y":113},
{"g":"S","x":-78.0,"y":7.5,"lo":4.3,"hi":10.7},{"g":"S","x":-77.2,"y":5.0,"lo":3.4,"hi":6.8},{"g":"S","x":-70.9,"y":4.6,"lo":1.95,"hi":7.4},{"g":"S","x":-34.5,"y":8.6,"lo":4.8,"hi":9.5},{"g":"S","x":-14.3,"y":13,"lo":3.0,"hi":25},{"g":"S","x":-14.3,"y":9.1},{"g":"S","x":11.3,"y":26},{"g":"S","x":13.1,"y":42.5,"lo":20,"hi":52},{"g":"S","x":19.8,"y":64,"lo":0.1,"hi":140},{"g":"S","x":19.8,"y":15},{"g":"S","x":19.8,"y":13.4,"lo":4.7,"hi":19},{"g":"S","x":21.5,"y":26.7},{"g":"S","x":22.0,"y":23.1},{"g":"S","x":21.3,"y":19.8},{"g":"S","x":22.4,"y":50.5,"lo":40,"hi":60},{"g":"S","x":26.9,"y":28.2,"lo":18,"hi":43},{"g":"S","x":28.3,"y":14.9,"lo":0.1,"hi":155},{"g":"S","x":28.3,"y":6.3,"lo":2.6,"hi":12},{"g":"S","x":29.5,"y":86,"lo":40,"hi":158},{"g":"S","x":32.1,"y":19.9,"lo":4.7,"hi":30},{"g":"S","x":33.6,"y":67},{"g":"S","x":35.8,"y":53,"lo":28,"hi":75},{"g":"S","x":36.4,"y":12.1,"lo":6,"hi":18},{"g":"S","x":42.4,"y":36.7,"lo":17.8,"hi":54.6},{"g":"S","x":53.3,"y":41.4,"lo":12,"hi":70},{"g":"S","x":53.1,"y":23.9},{"g":"S","x":53.1,"y":20.9,"lo":8,"hi":30},{"g":"S","x":53.4,"y":588,"lo":0.1,"hi":1240},{"g":"S","x":55.7,"y":14.1,"lo":9,"hi":20},{"g":"S","x":59.9,"y":10.3,"lo":8,"hi":12.5},{"g":"S","x":60.7,"y":5.9,"lo":3.9,"hi":8.0},{"g":"S","x":69.4,"y":7.9,"lo":2.9,"hi":11.5},{"g":"S","x":71.3,"y":11.9,"lo":0.1,"hi":30},{"g":"S","x":76.2,"y":4.9,"lo":2.05,"hi":8},{"g":"S","x":82.5,"y":6.0},{"g":"S","x":82.5,"y":3.44,"lo":0.62,"hi":8.6}
]},
"vconcat":[
{"width":625,"height":495,"data":{"name":"A"},
"resolve":{"axis":{"x":"independent","y":"independent"}},
"layer":[
{"transform":[{"filter":"datum.g == 'S' && isValid(datum.lo)"}],
"mark":{"type":"errorbar","orient":"vertical","ticks":{"size":9},"color":"#e79494","opacity":0.8,"clip":true},
"encoding":{"x":{"field":"x","type":"quantitative","scale":{"domain":[-90.1,87.9],"nice":false,"zero":false},"axis":null},
"y":{"field":"lo","type":"quantitative","scale":{"type":"log","domain":[0.1,10000],"nice":false},"axis":null},"y2":{"field":"hi"}}},
{"transform":[{"filter":"datum.g == 'C' && isValid(datum.lo)"}],
"mark":{"type":"errorbar","orient":"vertical","ticks":{"size":7},"color":"#333","opacity":0.9,"clip":true},
"encoding":{"x":{"field":"x","type":"quantitative","scale":{"domain":[-90.1,87.9],"nice":false,"zero":false},"axis":null},
"y":{"field":"lo","type":"quantitative","scale":{"type":"log","domain":[0.1,10000],"nice":false},"axis":null},"y2":{"field":"hi"}}},
{"mark":{"type":"circle","size":40,"opacity":1,"clip":true},
"encoding":{
"x":{"field":"x","type":"quantitative","scale":{"domain":[-90.1,87.9],"nice":false,"zero":false},
"axis":{"orient":"bottom","values":[-85,-75,-65,-55,-45,-35,-25,-15,-5,5,15,25,35,45,55,65,75,85],"labelExpr":"'' + datum.value","tickSize":8,"labelPadding":6,"title":"Latitude (°)","titlePadding":18}},
"y":{"field":"y","type":"quantitative","scale":{"type":"log","domain":[0.1,10000],"nice":false},
"axis":{"orient":"left","values":[0.1,0.2,0.3,0.4,0.5,0.6,0.7,0.8,0.9,1,2,3,4,5,6,7,8,9,10,20,30,40,50,60,70,80,90,100,200,300,400,500,600,700,800,900,1000,2000,3000,4000,5000,6000,7000,8000,9000,10000],
"labelExpr":"datum.value == 0.1 ? '10⁻¹' : datum.value == 1 ? '10⁰' : datum.value == 10 ? '10¹' : datum.value == 100 ? '10²' : datum.value == 1000 ? '10³' : datum.value == 10000 ? '10⁴' : ''",
"tickSize":{"condition":{"test":"abs(log(datum.value)/LN10 - round(log(datum.value)/LN10)) < 0.01","value":8},"value":4},
"labelPadding":2,"title":"Tl /pmol m⁻³","titlePadding":6}},
"color":{"field":"g","type":"nominal","scale":{"domain":["C","S"],"range":["#000000","#ee1111"]},
"legend":{"title":null,"orient":"none","legendX":9,"legendY":13,"labelExpr":"datum.label == 'C' ? 'Cruises' : 'Stations'","symbolType":"circle","symbolSize":30,"symbolOpacity":1,"symbolStrokeWidth":0,"strokeColor":"#888","padding":6,"rowPadding":6,"symbolOffset":13,"labelOffset":20,"fillColor":"#ffffff"}}}},
{"data":{"values":[{"t":"a"}]},
"mark":{"type":"text","fontSize":38,"font":"Liberation Sans","baseline":"alphabetic","align":"center","color":"#111"},
"encoding":{"text":{"field":"t"},
"x":{"datum":80,"type":"quantitative","scale":{"domain":[-90.1,87.9],"nice":false,"zero":false},"axis":{"orient":"top","values":[-85,-75,-65,-55,-45,-35,-25,-15,-5,5,15,25,35,45,55,65,75,85],"labels":false,"tickSize":-7,"domain":false,"title":null}},
"y":{"datum":2850,"type":"quantitative","scale":{"type":"log","domain":[0.1,10000],"nice":false},"axis":{"orient":"right","values":[0.1,0.2,0.3,0.4,0.5,0.6,0.7,0.8,0.9,1,2,3,4,5,6,7,8,9,10,20,30,40,50,60,70,80,90,100,200,300,400,500,600,700,800,900,1000,2000,3000,4000,5000,6000,7000,8000,9000,10000],"labels":false,"domain":false,"title":null,
"tickSize":{"condition":{"test":"abs(log(datum.value)/LN10 - round(log(datum.value)/LN10)) < 0.01","value":-8},"value":-4}}}}}
]},
{"width":625,"height":498,"data":{"name":"B"},
"resolve":{"axis":{"x":"independent","y":"independent"}},
"layer":[
{"transform":[{"filter":"datum.g == 'S' && isValid(datum.lo)"}],
"mark":{"type":"errorbar","orient":"vertical","ticks":{"size":8},"color":"#c86464","opacity":0.75,"clip":true},
"encoding":{"x":{"field":"x","type":"quantitative","scale":{"domain":[-90.1,87.9],"nice":false,"zero":false},"axis":null},
"y":{"field":"lo","type":"quantitative","scale":{"type":"log","domain":[0.1,2000],"nice":false},"axis":null},"y2":{"field":"hi"}}},
{"transform":[{"filter":"datum.g == 'C' && isValid(datum.lo)"}],
"mark":{"type":"errorbar","orient":"vertical","ticks":{"size":8},"color":"#555","opacity":0.8,"clip":true},
"encoding":{"x":{"field":"x","type":"quantitative","scale":{"domain":[-90.1,87.9],"nice":false,"zero":false},"axis":null},
"y":{"field":"lo","type":"quantitative","scale":{"type":"log","domain":[0.1,2000],"nice":false},"axis":null},"y2":{"field":"hi"}}},
{"mark":{"type":"circle","size":85,"opacity":1,"clip":true},
"encoding":{
"x":{"field":"x","type":"quantitative","scale":{"domain":[-90.1,87.9],"nice":false,"zero":false},
"axis":{"orient":"bottom","values":[-85,-75,-65,-55,-45,-35,-25,-15,-5,5,15,25,35,45,55,65,75,85],"labelExpr":"'' + datum.value","tickSize":8,"labelPadding":6,"title":"Latitude (°)","titlePadding":14}},
"y":{"field":"y","type":"quantitative","scale":{"type":"log","domain":[0.1,2000],"nice":false},
"axis":{"orient":"left","values":[0.1,0.2,0.3,0.4,0.5,0.6,0.7,0.8,0.9,1,2,3,4,5,6,7,8,9,10,20,30,40,50,60,70,80,90,100,200,300,400,500,600,700,800,900,1000,2000],
"labelExpr":"datum.value == 0.1 ? '10⁻¹' : datum.value == 1 ? '10⁰' : datum.value == 10 ? '10¹' : datum.value == 100 ? '10²' : datum.value == 1000 ? '10³' : ''",
"tickSize":{"condition":{"test":"abs(log(datum.value)/LN10 - round(log(datum.value)/LN10)) < 0.01","value":8},"value":4},
"labelPadding":2,"title":"Tl /pmol m⁻³","titlePadding":6}},
"color":{"field":"g","type":"nominal","scale":{"domain":["C","S"],"range":["#000000","#ee1111"]},
"legend":{"title":null,"orient":"none","legendX":12,"legendY":13,"labelExpr":"datum.label == 'C' ? 'Cruises' : 'Stations'","symbolType":"circle","symbolSize":90,"symbolOpacity":1,"symbolStrokeWidth":0,"strokeColor":"#cccccc","padding":6,"rowPadding":6,"symbolOffset":12,"labelOffset":20,"fillColor":"#ffffff"}}}},
{"data":{"values":[{"t":"b"}]},
"mark":{"type":"text","fontSize":40,"font":"Liberation Sans","baseline":"alphabetic","align":"center","color":"#111"},
"encoding":{"text":{"field":"t"},
"x":{"datum":80.2,"type":"quantitative","scale":{"domain":[-90.1,87.9],"nice":false,"zero":false},"axis":{"orient":"top","values":[-85,-75,-65,-55,-45,-35,-25,-15,-5,5,15,25,35,45,55,65,75,85],"labels":false,"tickSize":-7,"domain":false,"title":null}},
"y":{"datum":620,"type":"quantitative","scale":{"type":"log","domain":[0.1,2000],"nice":false},"axis":{"orient":"right","values":[0.1,0.2,0.3,0.4,0.5,0.6,0.7,0.8,0.9,1,2,3,4,5,6,7,8,9,10,20,30,40,50,60,70,80,90,100,200,300,400,500,600,700,800,900,1000,2000],"labels":false,"domain":false,"title":null,
"tickSize":{"condition":{"test":"abs(log(datum.value)/LN10 - round(log(datum.value)/LN10)) < 0.01","value":-8},"value":-4}}}}}
]}
]
}
